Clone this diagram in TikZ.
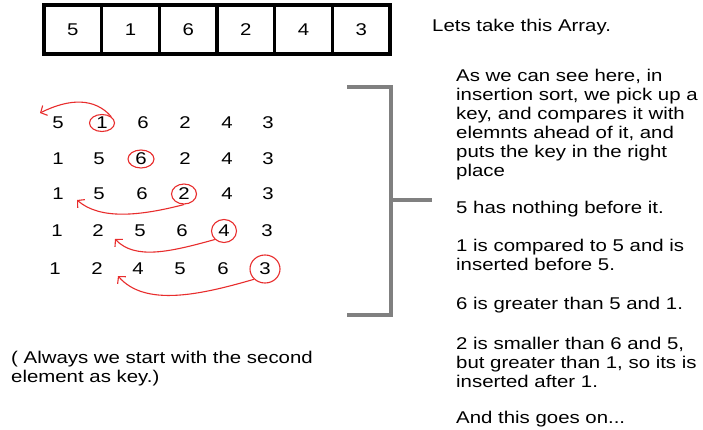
\documentclass[tikz,border=0pt]{standalone}
\usepackage{fontspec}
\setmainfont{Liberation Sans}[FakeStretch=1.2]
\usetikzlibrary{shapes.geometric,arrows.meta}
\definecolor{kred}{RGB}{232,45,45}
\definecolor{bgray}{RGB}{128,128,128}
\tikzset{
  txt/.style={font=\fontsize{17}{19}\selectfont, inner sep=0pt, align=left, anchor=north west},
  num/.style={font=\fontsize{17}{19}\selectfont, inner sep=0pt},
  cell/.style={draw=black, line width=3.5pt, minimum width=57.67pt, minimum height=49pt, inner sep=0pt, font=\fontsize{17}{19}\selectfont},
  keyring/.style={num, draw=kred, line width=1.1pt, ellipse},
  brk/.style={draw=bgray, line width=4pt},
  arr/.style={draw=kred, line width=1.1pt, -{Straight Barb[length=5pt,width=11pt,line width=1.1pt]}}
}
\begin{document}
\begin{tikzpicture}[x=1pt,y=-1pt]
\useasboundingbox[fill=white] (0,0) rectangle (703,430);
% array
\foreach \v [count=\i] in {5,1,6,2,4,3}{
  \node[cell] (c\i) at ({44+57.67*(\i-0.5)},29.5) {\v};
}
\node[txt] (lets) at (432,18.6) {Lets take this Array.};
% row 1
\node[num] (r1a) at (58,123) {5};
\node[keyring, minimum width=25pt, minimum height=17pt] (k1) at (102,123) {1};
\node[num] (r1c) at (143,123) {6};
\node[num] (r1d) at (185,123) {2};
\node[num] (r1e) at (227,123) {4};
\node[num] (r1f) at (268,123) {3};
% row 2
\node[num] (r2a) at (58,159) {1};
\node[num] (r2b) at (99,159) {5};
\node[keyring, minimum width=26pt, minimum height=18pt] (k2) at (141,159) {6};
\node[num] (r2d) at (185,159) {2};
\node[num] (r2e) at (227,159) {4};
\node[num] (r2f) at (268,159) {3};
% row 3
\node[num] (r3a) at (58,194) {1};
\node[num] (r3b) at (99,194) {5};
\node[num] (r3c) at (142,194) {6};
\node[keyring, minimum width=25pt, minimum height=20pt] (k3) at (184,194) {2};
\node[num] (r3e) at (227,194) {4};
\node[num] (r3f) at (268,194) {3};
% row 4
\node[num] (r4a) at (57,231) {1};
\node[num] (r4b) at (98,231) {2};
\node[num] (r4c) at (140,231) {5};
\node[num] (r4d) at (182,231) {6};
\node[keyring, minimum width=25pt, minimum height=23pt] (k4) at (224,231) {4};
\node[num] (r4f) at (267,231) {3};
% row 5
\node[num] (r5a) at (55,269) {1};
\node[num] (r5b) at (97,269) {2};
\node[num] (r5c) at (138,269) {4};
\node[num] (r5d) at (180,269) {5};
\node[num] (r5e) at (223,269) {6};
\node[keyring, minimum width=30pt, minimum height=28pt] (k5) at (265,269) {3};
% arrow tips
\coordinate (t1) at (40,113);
\coordinate (t3) at (77,200);
\coordinate (t4) at (115,239);
\coordinate (t5) at (118,276);
\draw[arr] (k1.north east) .. controls (95,98) and (70,98) .. (t1);
\draw[arr] (k3.south) .. controls (140,216) and (100,220) .. (t3);
\draw[arr] (k4.south west) .. controls (170,252) and (135,260) .. (t4);
\draw[arr] (k5.south west) .. controls (200,295) and (145,307) .. (t5);
% bracket
\coordinate (b1) at (347,87);
\coordinate (b2) at (391,87);
\coordinate (b3) at (391,315);
\coordinate (b4) at (347,315);
\coordinate (bm) at (391,200);
\coordinate (bn) at (432,200);
\draw[brk] (b1) -- (b2) -- (b3) -- (b4);
\draw[brk] (bm) -- (bn);
% right text
\node[txt] (p1) at (456,68.6) {As we can see here, in\\insertion sort, we pick up a\\key, and compares it with\\elemnts ahead of it, and\\puts the key in the right\\place};
\node[txt] (p2) at (456,200.6) {5 has nothing before it.};
\node[txt] (p3) at (456,238.7) {1 is compared to 5 and is\\inserted before 5.};
\node[txt] (p4) at (456,296.6) {6 is greater than 5 and 1.};
\node[txt] (p5) at (456,336.6) {2 is smaller than 6 and 5,\\but greater than 1, so its is\\inserted after 1.};
\node[txt] (p6) at (456,410.6) {And this goes on...};
% left note
\node[txt] (note) at (11,350.6) {( Always we start with the second\\element as key.)};
\end{tikzpicture}
\end{document}
